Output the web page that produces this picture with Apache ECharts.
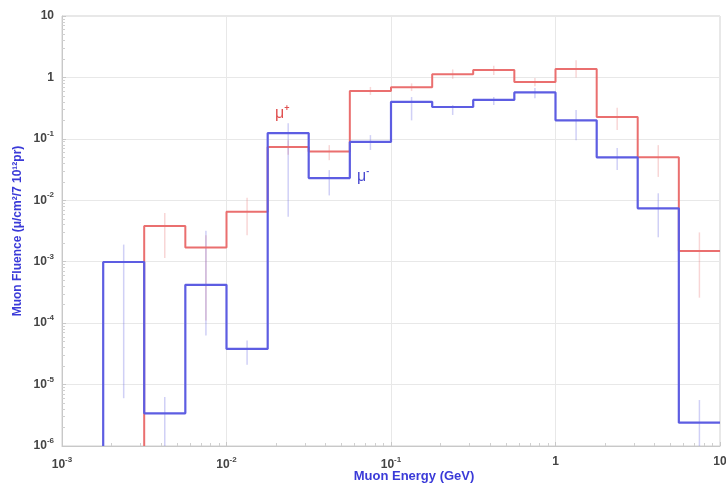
<!DOCTYPE html>
<html><head><meta charset="utf-8">
<script src="https://cdn.jsdelivr.net/npm/echarts@6/dist/echarts.min.js"></script>
<style>html,body{margin:0;padding:0;background:#fff}#c{width:726px;height:487px}</style>
</head><body><div id="c"></div>
<script>
// Bin edges (GeV), quarter-decade bins
var edges = [0.00178, 0.00316, 0.00562, 0.01, 0.0178, 0.0316, 0.0562, 0.1, 0.178, 0.316, 0.562, 1, 1.78, 3.16, 5.62, 10];
// mu+ fluence per bin (null = below axis)
var muPlus  = [null, 0.0038, 0.0017, 0.0065, 0.074, 0.062, 0.60, 0.69, 1.13, 1.32, 0.84, 1.37, 0.226, 0.050, 0.0015];
var muPlusLo = [null, 0.00115, 0.00011, 0.0027, 0.055, 0.045, 0.52, 0.60, 0.95, 1.10, 0.72, 1.0, 0.14, 0.024, 0.00026];
var muPlusHi = [null, 0.0062, 0.0027, 0.011, 0.095, 0.079, 0.70, 0.80, 1.35, 1.55, 0.98, 1.9, 0.32, 0.079, 0.003];
// mu- fluence per bin
var muMinus  = [0.00099, 0.0000034, 0.00042, 0.000038, 0.124, 0.023, 0.089, 0.40, 0.33, 0.43, 0.57, 0.20, 0.050, 0.0074, 0.0000024];
var muMinusLo = [0.000006, 0.000001, 0.000063, 0.000021, 0.0054, 0.012, 0.066, 0.20, 0.245, 0.355, 0.46, 0.095, 0.031, 0.0025, 0.000001];
var muMinusHi = [0.0019, 0.0000063, 0.0032, 0.000052, 0.18, 0.031, 0.115, 0.48, 0.355, 0.48, 0.67, 0.295, 0.071, 0.013, 0.0000056];
var yFloor = 1e-6;

function stepData(vals) {
  var d = [], started = false;
  for (var i = 0; i < vals.length; i++) {
    if (vals[i] == null) continue;
    if (!started) { d.push([edges[i], yFloor]); started = true; }
    d.push([edges[i], vals[i]]);
    d.push([edges[i + 1], vals[i]]);
  }
  return d;
}
function errData(lo, hi) {
  var d = [];
  for (var i = 0; i < lo.length; i++) {
    if (lo[i] == null) continue;
    d.push([Math.sqrt(edges[i] * edges[i + 1]), lo[i], hi[i]]);
  }
  return d;
}
function errSeries(lo, hi, color) {
  return {
    type: 'custom', clip: true, silent: true, z: 1,
    data: errData(lo, hi),
    renderItem: function (params, api) {
      var p1 = api.coord([api.value(0), api.value(1)]);
      var p2 = api.coord([api.value(0), api.value(2)]);
      return { type: 'line', shape: { x1: p1[0], y1: p1[1], x2: p2[0], y2: p2[1] },
        style: { stroke: color, lineWidth: 1.5 } };
    }
  };
}
function expLabel(v) {
  var e = Math.round(Math.log10(v));
  if (e === 0) return '{b|1}';
  if (e === 1) return '{b|10}';
  return '{b|10}{s|' + e + '}';
}
var rich = {
  b: { fontFamily: 'Liberation Sans', fontWeight: 'bold', fontSize: 12, color: '#444' },
  s: { fontFamily: 'Liberation Sans', fontWeight: 'bold', fontSize: 8, color: '#444', padding: [0, 0, 10, 0] }
};

var chart = echarts.init(document.getElementById('c'), null, { renderer: 'canvas' });
chart.setOption({
  animation: false,
  backgroundColor: '#fff',
  grid: { left: 62, right: 6, top: 16, bottom: 41, outerBoundsMode: 'none', containLabel: false,
    show: true, borderColor: '#d0d0d0', borderWidth: 1 },
  xAxis: {
    type: 'log', logBase: 10, min: 0.001, max: 10,
    name: 'Muon Energy (GeV)', nameLocation: 'middle', nameGap: 24, nameMoveOverlap: false,
    nameTextStyle: { fontFamily: 'Liberation Sans', fontWeight: 'bold', fontSize: 13, color: '#3a3ad8', padding: [0, 0, 0, 46] },
    axisLine: { lineStyle: { color: '#c8c8c8' } },
    axisTick: { show: true, inside: true, length: 4, lineStyle: { color: '#c8c8c8' } },
    minorTick: { show: true, splitNumber: 9, length: 3, lineStyle: { color: '#d0d0d0' } },
    splitLine: { show: true, lineStyle: { color: '#e8e8e8' } },
    axisLabel: { formatter: expLabel, rich: rich, margin: 10 }
  },
  yAxis: {
    type: 'log', logBase: 10, min: 1e-6, max: 10,
    name: 'Muon Fluence (\u03bc/cm\u00b2/7 10\u00b9\u00b2pr)', nameLocation: 'middle', nameGap: 38, nameMoveOverlap: false,
    nameTextStyle: { fontFamily: 'Liberation Sans', fontWeight: 'bold', fontSize: 12, color: '#3a3ad8' },
    axisLine: { show: true, lineStyle: { color: '#c8c8c8' } },
    axisTick: { show: true, inside: true, length: 4, lineStyle: { color: '#c8c8c8' } },
    minorTick: { show: true, splitNumber: 9, length: 3, lineStyle: { color: '#d0d0d0' } },
    splitLine: { show: true, lineStyle: { color: '#e8e8e8' } },
    axisLabel: { formatter: expLabel, rich: rich, margin: 8 }
  },
  series: [
    errSeries(muPlusLo, muPlusHi, 'rgba(232,120,120,0.3)'),
    errSeries(muMinusLo, muMinusHi, 'rgba(100,100,225,0.3)'),
    { type: 'line', name: 'mu+', data: stepData(muPlus), symbol: 'none', clip: true, z: 2,
      lineStyle: { color: '#ea6f6f', width: 2 } },
    { type: 'line', name: 'mu-', data: stepData(muMinus), symbol: 'none', clip: true, z: 3,
      lineStyle: { color: '#5d5de2', width: 2.2 } }
  ],
  graphic: [
    { type: 'text', left: 275, top: 104, style: { text: '{m|\u03bc}{p|+}', rich: {
      m: { fontFamily: 'Liberation Sans', fontSize: 16, fill: '#e05050' },
      p: { fontFamily: 'Liberation Sans', fontWeight: 'bold', fontSize: 9, fill: '#e05050', padding: [0, 0, 10, 0] } } } },
    { type: 'text', left: 357, top: 167, style: { text: '{m|\u03bc}{p|-}', rich: {
      m: { fontFamily: 'Liberation Sans', fontSize: 16, fill: '#4a4ad0' },
      p: { fontFamily: 'Liberation Sans', fontWeight: 'bold', fontSize: 9, fill: '#4a4ad0', padding: [0, 0, 10, 0] } } } }
  ]
});
</script></body></html>
